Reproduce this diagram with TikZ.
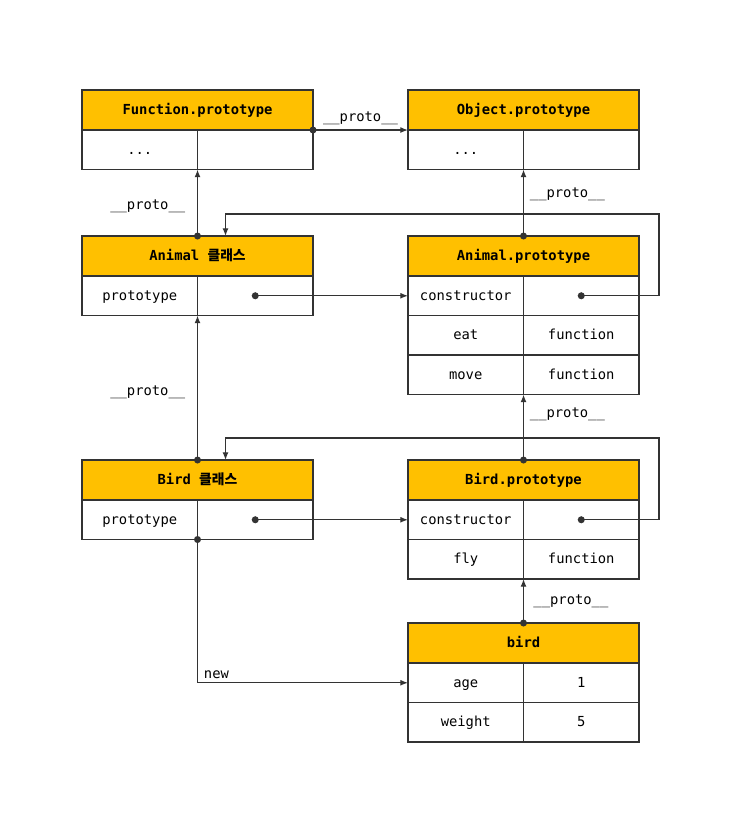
\documentclass[tikz,border=0pt]{standalone}
\usepackage{fontspec}
\setmonofont{DejaVu Sans Mono}
\newfontfamily\krfont{Noto Sans CJK KR}
\usetikzlibrary{positioning,arrows.meta}
\definecolor{headyellow}{HTML}{FFC000}
\definecolor{linegray}{HTML}{333333}
\tikzset{
  head/.style={draw=linegray, fill=headyellow, line width=0.9pt, outer sep=0pt, inner sep=0pt,
    minimum width=6.93cm, minimum height=1.2cm, text height=0.95em, text depth=0.15em,
    font=\ttfamily\bfseries\fontsize{11.8}{13}\selectfont},
  cell/.style={draw=linegray, fill=white, line width=0.9pt, outer sep=0pt, inner sep=0pt,
    minimum width=3.465cm, minimum height=1.185cm, text height=0.95em, text depth=0.15em,
    font=\ttfamily\fontsize{11.8}{13}\selectfont},
  link/.style={draw=linegray, line width=1pt, -{Latex[length=6.5pt,width=5pt]}},
  lbl/.style={font=\ttfamily\fontsize{11.8}{13}\selectfont, inner sep=2pt},
  dot/.style={fill=linegray}
}
\begin{document}
\begin{tikzpicture}[x=0.03cm, y=-0.03cm]
  \useasboundingbox (0,0) rectangle (745,832);

  % Function.prototype
  \node[head] (fp) at (197.5,110) {Function.prototype};
  \node[cell, below left=0pt and 0pt of fp.south] (fp-k1) {...};
  \node[cell, right=0pt of fp-k1] (fp-v1) {};

  % Object.prototype
  \node[head] (op) at (523.5,110) {Object.prototype};
  \node[cell, below left=0pt and 0pt of op.south] (op-k1) {...};
  \node[cell, right=0pt of op-k1] (op-v1) {};

  % Animal class
  \node[head] (an) at (197.5,256) {Animal {\krfont 클래스}};
  \node[cell, below left=0pt and 0pt of an.south] (an-k1) {prototype};
  \node[cell, right=0pt of an-k1] (an-v1) {};

  % Animal.prototype
  \node[head] (ap) at (523.5,256) {Animal.prototype};
  \node[cell, below left=0pt and 0pt of ap.south] (ap-k1) {constructor};
  \node[cell, right=0pt of ap-k1] (ap-v1) {};
  \node[cell, below=0pt of ap-k1] (ap-k2) {eat};
  \node[cell, right=0pt of ap-k2] (ap-v2) {function};
  \node[cell, below=0pt of ap-k2] (ap-k3) {move};
  \node[cell, right=0pt of ap-k3] (ap-v3) {function};

  % Bird class
  \node[head] (bn) at (197.5,480) {Bird {\krfont 클래스}};
  \node[cell, below left=0pt and 0pt of bn.south] (bn-k1) {prototype};
  \node[cell, right=0pt of bn-k1] (bn-v1) {};

  % Bird.prototype
  \node[head] (bp) at (523.5,480) {Bird.prototype};
  \node[cell, below left=0pt and 0pt of bp.south] (bp-k1) {constructor};
  \node[cell, right=0pt of bp-k1] (bp-v1) {};
  \node[cell, below=0pt of bp-k1] (bp-k2) {fly};
  \node[cell, right=0pt of bp-k2] (bp-v2) {function};

  % bird
  \node[head] (bd) at (523.5,643) {bird};
  \node[cell, below left=0pt and 0pt of bd.south] (bd-k1) {age};
  \node[cell, right=0pt of bd-k1] (bd-v1) {1};
  \node[cell, below=0pt of bd-k1] (bd-k2) {weight};
  \node[cell, right=0pt of bd-k2] (bd-v2) {5};

  \coordinate (ap-loop) at (659,214);
  \coordinate (bp-loop) at (659,438);

  % links
  \draw[link] (fp.south east) -- node[lbl, above=2pt] {\_\_proto\_\_} (op.south west);
  \draw[link] (an.north) -- node[lbl, left=8pt, pos=0.45] {\_\_proto\_\_} (fp-k1.south east);
  \draw[link] (ap.north) -- node[lbl, right=3pt, pos=0.63] {\_\_proto\_\_} (op-k1.south east);
  \draw[link] (an-v1.center) -- (ap-k1.west);
  \draw[link] (ap-v1.center) -| (ap-loop) -| ([xshift=0.84cm]an.north);
  \draw[link] (bn.north) -- node[lbl, left=8pt, pos=0.47] {\_\_proto\_\_} (an-k1.south east);
  \draw[link] (bp.north) -- node[lbl, right=3pt, pos=0.7] {\_\_proto\_\_} (ap-k3.south east);
  \draw[link] (bn-v1.center) -- (bp-k1.west);
  \draw[link] (bp-v1.center) -| (bp-loop) -| ([xshift=0.84cm]bn.north);
  \draw[link] (bd.north) -- node[lbl, right=6pt] {\_\_proto\_\_} (bp-k2.south east);
  \draw[link] (bn-k1.south east) |- node[lbl, above right=1pt and 3pt, pos=0.5] {new} (bd-k1.west);

  % dots
  \foreach \p in {fp.south east, an.north, ap.north, an-v1.center, ap-v1.center,
                  bn.north, bp.north, bn-v1.center, bp-v1.center, bd.north, bn-k1.south east}
    \fill[dot] (\p) circle (3pt);
\end{tikzpicture}
\end{document}
